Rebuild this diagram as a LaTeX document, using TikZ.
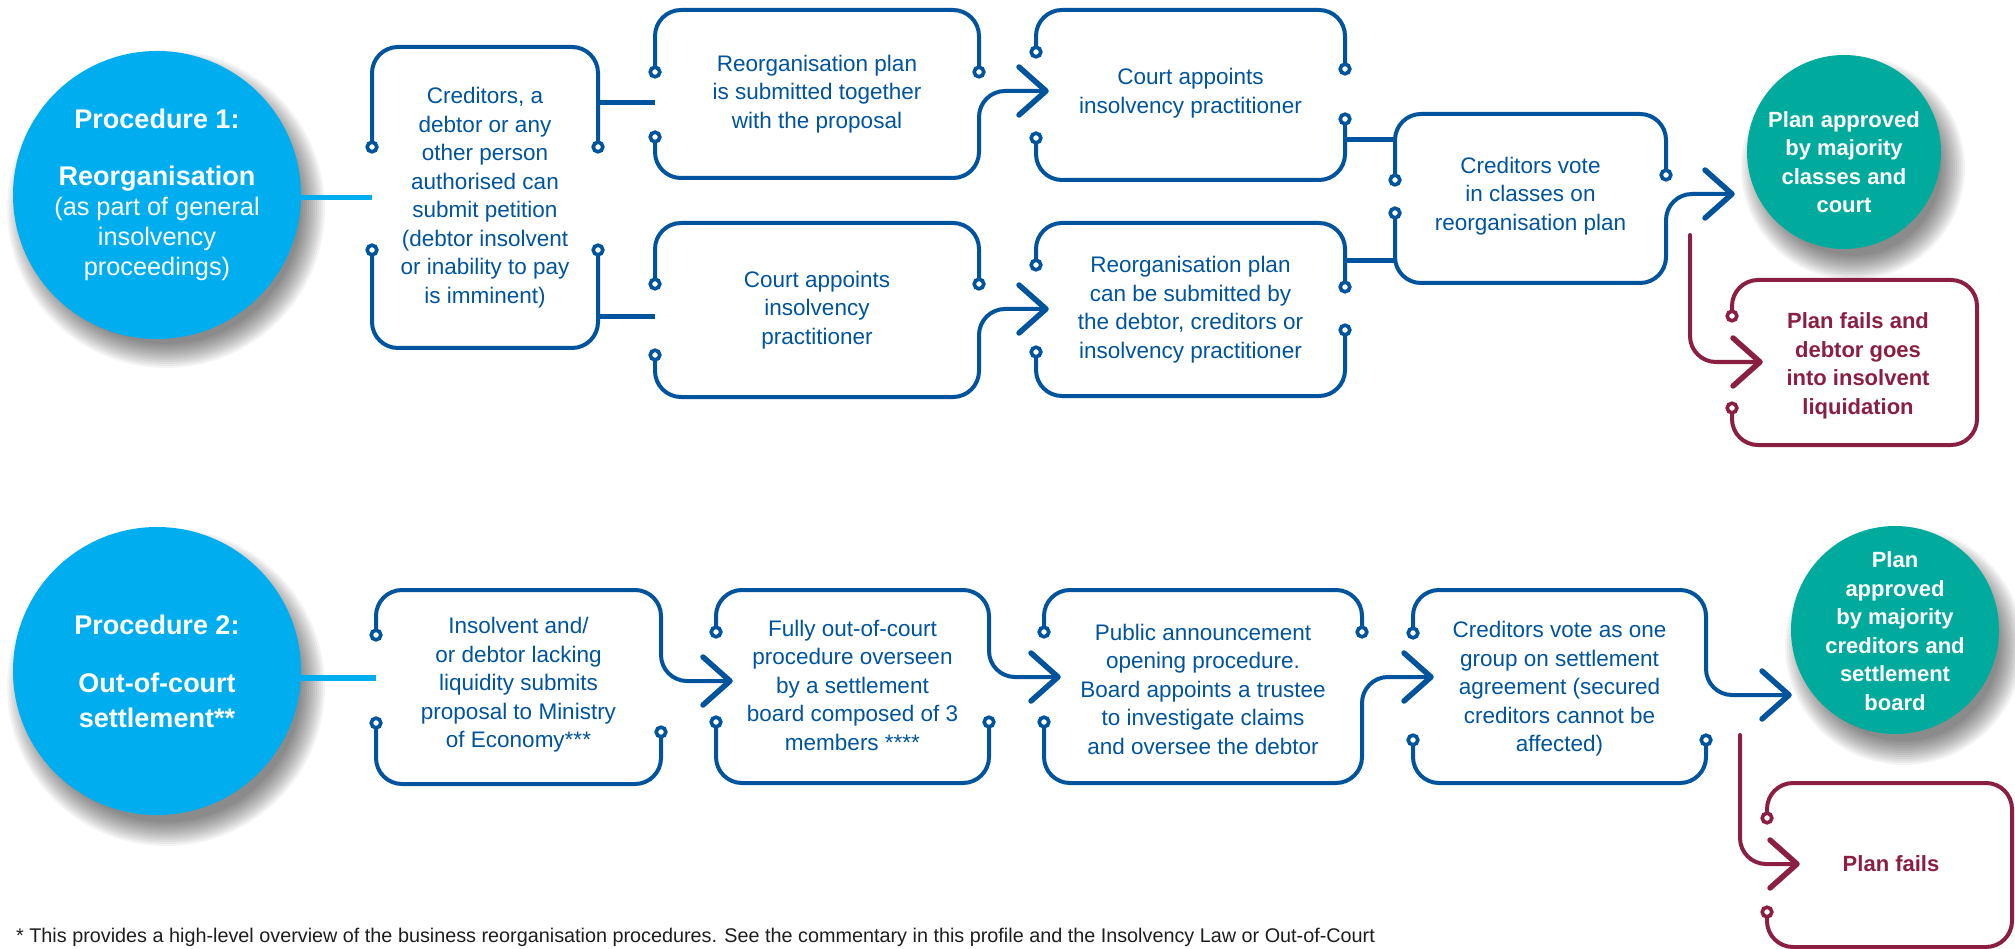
\documentclass[tikz,border=0pt]{standalone}
\usepackage{fontspec}
\setmainfont{Liberation Sans}

\definecolor{fblue}{RGB}{0,84,158}
\definecolor{lblue}{RGB}{0,173,238}
\definecolor{okgreen}{RGB}{0,170,157}
\definecolor{wine}{RGB}{139,31,66}
\definecolor{fnote}{RGB}{30,30,30}

\tikzset{
  outl/.style={draw=#1, line width=4pt, rounded corners=26pt, line cap=round, line join=round},
  outl/.default=fblue,
  link/.style={draw=fblue, line width=5pt},
  feed/.style={draw=lblue, line width=5.5pt},
  chevtip/.style={draw=#1, line width=5.5pt, line cap=round, line join=round},
  chevtip/.default=fblue,
  boxtext/.style={inner sep=0pt, align=center, text=fblue, font=\fontsize{22.5}{28.5}\selectfont},
  failtext/.style={inner sep=0pt, align=center, text=wine, font=\bfseries\fontsize{22}{28.5}\selectfont},
  enddisc/.style={circle, fill=okgreen, inner sep=0pt},
  endtext/.style={inner sep=0pt, align=center, text=white, font=\bfseries\fontsize{22}{28.5}\selectfont},
  proc/.style={circle, fill=lblue, inner sep=0pt, minimum size=288pt, align=center, text=white, font=\fontsize{25.3}{30}\selectfont},
}

% bold heading line inside a procedure disc
\newcommand\prochead[1]{{\fontsize{27}{30}\selectfont\bfseries #1}}
% small ring at the open end of a box side
\newcommand\pinmark[2]{\draw[draw=#1, fill=white, line width=3.6pt] (#2) circle[radius=4.8pt];}
% open chevron head at a named point
\newcommand\chevat[2]{\draw[chevtip=#1] ([shift={(-27pt,24pt)}]#2) -- (#2) -- ([shift={(-27pt,-24pt)}]#2);}
% soft drop shadow below a disc: centre x, centre y, radius
\newcommand\softshadow[3]{\foreach \k in {0,...,12}{\fill[black, opacity=0.045] (#1+9,#2+16) circle[radius={(#3+15-2*\k)*1pt}];}}

\begin{document}
\begin{tikzpicture}[x=1pt, y=-1pt]
\fill[white] (0,0) rectangle (2015,949);
\useasboundingbox (0,0) rectangle (2015,949);

% ---------- shadows and discs ----------
\softshadow{157}{193}{144}
\softshadow{157}{671}{144}
\softshadow{1844}{152}{97}
\softshadow{1895}{630}{104}

\node[proc] (c1) at (157,195) {\prochead{Procedure 1:}\\[27pt]\prochead{Reorganisation}\\(as part of general\\insolvency\\proceedings)};
\node[proc] (c2) at (157,671) {\prochead{Procedure 2:}\\[28pt]\prochead{Out-of-court}\\[5pt]\prochead{settlement**}};
\node[enddisc, minimum size=194pt] (g1) at (1844,152) {};
\node[endtext] (g1t) at (1844,162) {Plan approved\\by majority\\classes and\\court};
\node[enddisc, minimum size=208pt] (g2) at (1895,630) {};
\node[endtext] (g2t) at (1895,631) {Plan\\approved\\by majority\\creditors and\\settlement\\board};

% ---------- box texts ----------
\node[boxtext, minimum width=226pt, minimum height=301pt] (b1) at (485,197.5) {Creditors, a\\debtor or any\\other person\\authorised can\\submit petition\\(debtor insolvent\\or inability to pay\\is imminent)};
\node[boxtext, minimum width=324pt, minimum height=168pt] (b2) at (817,94) {Reorganisation plan\\is submitted together\\with the proposal};
\node[boxtext, minimum width=309pt, minimum height=170pt] (b3) at (1190.5,93) {Court appoints\\insolvency practitioner};
\node[boxtext, minimum width=324pt, minimum height=174pt] (b4) at (817,310) {Court appoints\\insolvency\\practitioner};
\node[boxtext, minimum width=309pt, minimum height=173pt] (b6) at (1190.5,309.5) {Reorganisation plan\\can be submitted by\\the debtor, creditors or\\insolvency practitioner};
\node[boxtext, minimum width=271pt, minimum height=169pt] (b5) at (1530.5,196) {Creditors vote\\in classes on\\reorganisation plan};
\node[failtext, minimum width=245pt, minimum height=165pt] (m1) at (1858,366) {Plan fails and\\debtor goes\\into insolvent\\liquidation};

\node[boxtext, minimum width=285pt, minimum height=194pt] (b7) at (518.5,685) {Insolvent and/\\or debtor lacking\\liquidity submits\\proposal to Ministry\\of Economy***};
\node[boxtext, minimum width=273pt, minimum height=193pt] (b8) at (852.5,685) {Fully out-of-court\\procedure overseen\\by a settlement\\board composed of 3\\members ****};
\node[boxtext, minimum width=318pt, minimum height=193pt] (b9) at (1203,689) {Public announcement\\opening procedure.\\Board appoints a trustee\\to investigate claims\\and oversee the debtor};
\node[boxtext, minimum width=293pt, minimum height=193pt] (b10) at (1559.5,689) {Creditors vote as one\\group on settlement\\agreement (secured\\creditors cannot be\\affected)};
\node[failtext, minimum width=245pt, minimum height=164pt] (m2) at (1891,864) {Plan fails};

% ---------- arrow end points ----------
\coordinate (t23) at (1046,91);
\coordinate (t46) at (1046,309);
\coordinate (t5g) at (1732,194);
\coordinate (s5m) at (1690,235);
\coordinate (t5m) at (1760,362);
\coordinate (t78) at (730,681);
\coordinate (t89) at (1058,677);
\coordinate (t910) at (1431,677);
\coordinate (t10g) at (1789,695);
\coordinate (s10m) at (1740,735);
\coordinate (t10m) at (1797,864);
\coordinate (f2) at ([yshift=7pt]b7.west);

% ---------- feeds from the procedure discs ----------
\draw[feed] (c1.east |- b1.west) -- (b1.west);
\draw[feed] (c2.east |- f2) -- (f2);

% ---------- procedure 1 ----------
\draw[outl] (372,147) -- (372,47) -- (598,47) -- (598,147);
\draw[outl] (372,250) -- (372,348) -- (598,348) -- (598,250);
\draw[link] (b1.east |- 0,103) -- (b2.west |- 0,103);
\draw[link] (b1.east |- 0,317) -- (b4.west |- 0,317);

\draw[outl] (655,72) -- (655,10) -- (979,10) -- (979,72);
\draw[outl] (655,137) -- (655,178) -- (979,178) -- (979,91) -- (t23);

\draw[outl] (1036,52) -- (1036,10) -- (1345,10) -- (1345,69);
\draw[outl] (1036,138) -- (1036,180) -- (1345,180) -- (1345,119);
\draw[link] (b3.east |- 0,140) -- (b5.west |- 0,140);

\draw[outl] (655,284) -- (655,223) -- (979,223) -- (979,284);
\draw[outl] (655,355) -- (655,397) -- (979,397) -- (979,309) -- (t46);

\draw[outl] (1036,265) -- (1036,223) -- (1345,223) -- (1345,287);
\draw[outl] (1036,352) -- (1036,396) -- (1345,396) -- (1345,330);
\draw[link] (b6.east |- 0,261) -- (b5.west |- 0,261);

\draw[outl] (1395,180) -- (1395,114) -- (1666,114) -- (1666,175);
\draw[outl] (1395,213) -- (1395,283) -- (1666,283) -- (1666,194) -- (t5g);

\draw[outl=wine] (s5m) -- (s5m |- t5m) -- (t5m);
\draw[outl=wine] (1732,316) -- (1732,280) -- (1977,280) -- (1977,445) -- (1732,445) -- (1732,408);

% ---------- procedure 2 ----------
\draw[outl] (376,635) -- (376,590) -- (661,590) -- (661,681) -- (t78);
\draw[outl] (376,723) -- (376,784) -- (661,784) -- (661,732);

\draw[outl] (716,632) -- (716,590) -- (989,590) -- (989,677) -- (t89);
\draw[outl] (716,722) -- (716,783) -- (989,783) -- (989,722);

\draw[outl] (1044,632) -- (1044,590) -- (1362,590) -- (1362,632);
\draw[outl] (1044,722) -- (1044,783) -- (1362,783) -- (1362,677) -- (t910);

\draw[outl] (1413,633) -- (1413,590) -- (1706,590) -- (1706,695) -- (t10g);
\draw[outl] (1413,740) -- (1413,783) -- (1706,783) -- (1706,740);

\draw[outl=wine] (s10m) -- (s10m |- t10m) -- (t10m);
\draw[outl=wine] (1767,818) -- (1767,783) -- (2012,783) -- (2012,947) -- (1767,947) -- (1767,912);

% ---------- rings ----------
\foreach \p in {{372,147},{372,250},{598,147},{598,250},
  {655,72},{655,137},{979,72},
  {1036,52},{1036,138},{1345,69},{1345,119},
  {655,284},{655,355},{979,284},
  {1036,265},{1036,352},{1345,287},{1345,330},
  {1395,180},{1395,213},{1666,175},
  {376,635},{376,723},{661,732},
  {716,632},{716,722},{989,722},
  {1044,632},{1044,722},{1362,632},
  {1413,633},{1413,740},{1706,740}}
  {\pinmark{fblue}{\p}}
\foreach \p in {{1732,316},{1732,408},{1767,818},{1767,912}}
  {\pinmark{wine}{\p}}

% ---------- chevrons ----------
\chevat{fblue}{t23}
\chevat{fblue}{t46}
\chevat{fblue}{t5g}
\chevat{wine}{t5m}
\chevat{fblue}{t78}
\chevat{fblue}{t89}
\chevat{fblue}{t910}
\chevat{fblue}{t10g}
\chevat{wine}{t10m}

% ---------- footnote ----------
\node[anchor=base west, inner sep=0pt, text=fnote, font=\fontsize{19.8}{22}\selectfont] (fn) at (16,942) {* This provides a high-level overview of the business reorganisation procedures. See the commentary in this profile and the Insolvency Law or Out-of-Court};
\end{tikzpicture}
\end{document}
